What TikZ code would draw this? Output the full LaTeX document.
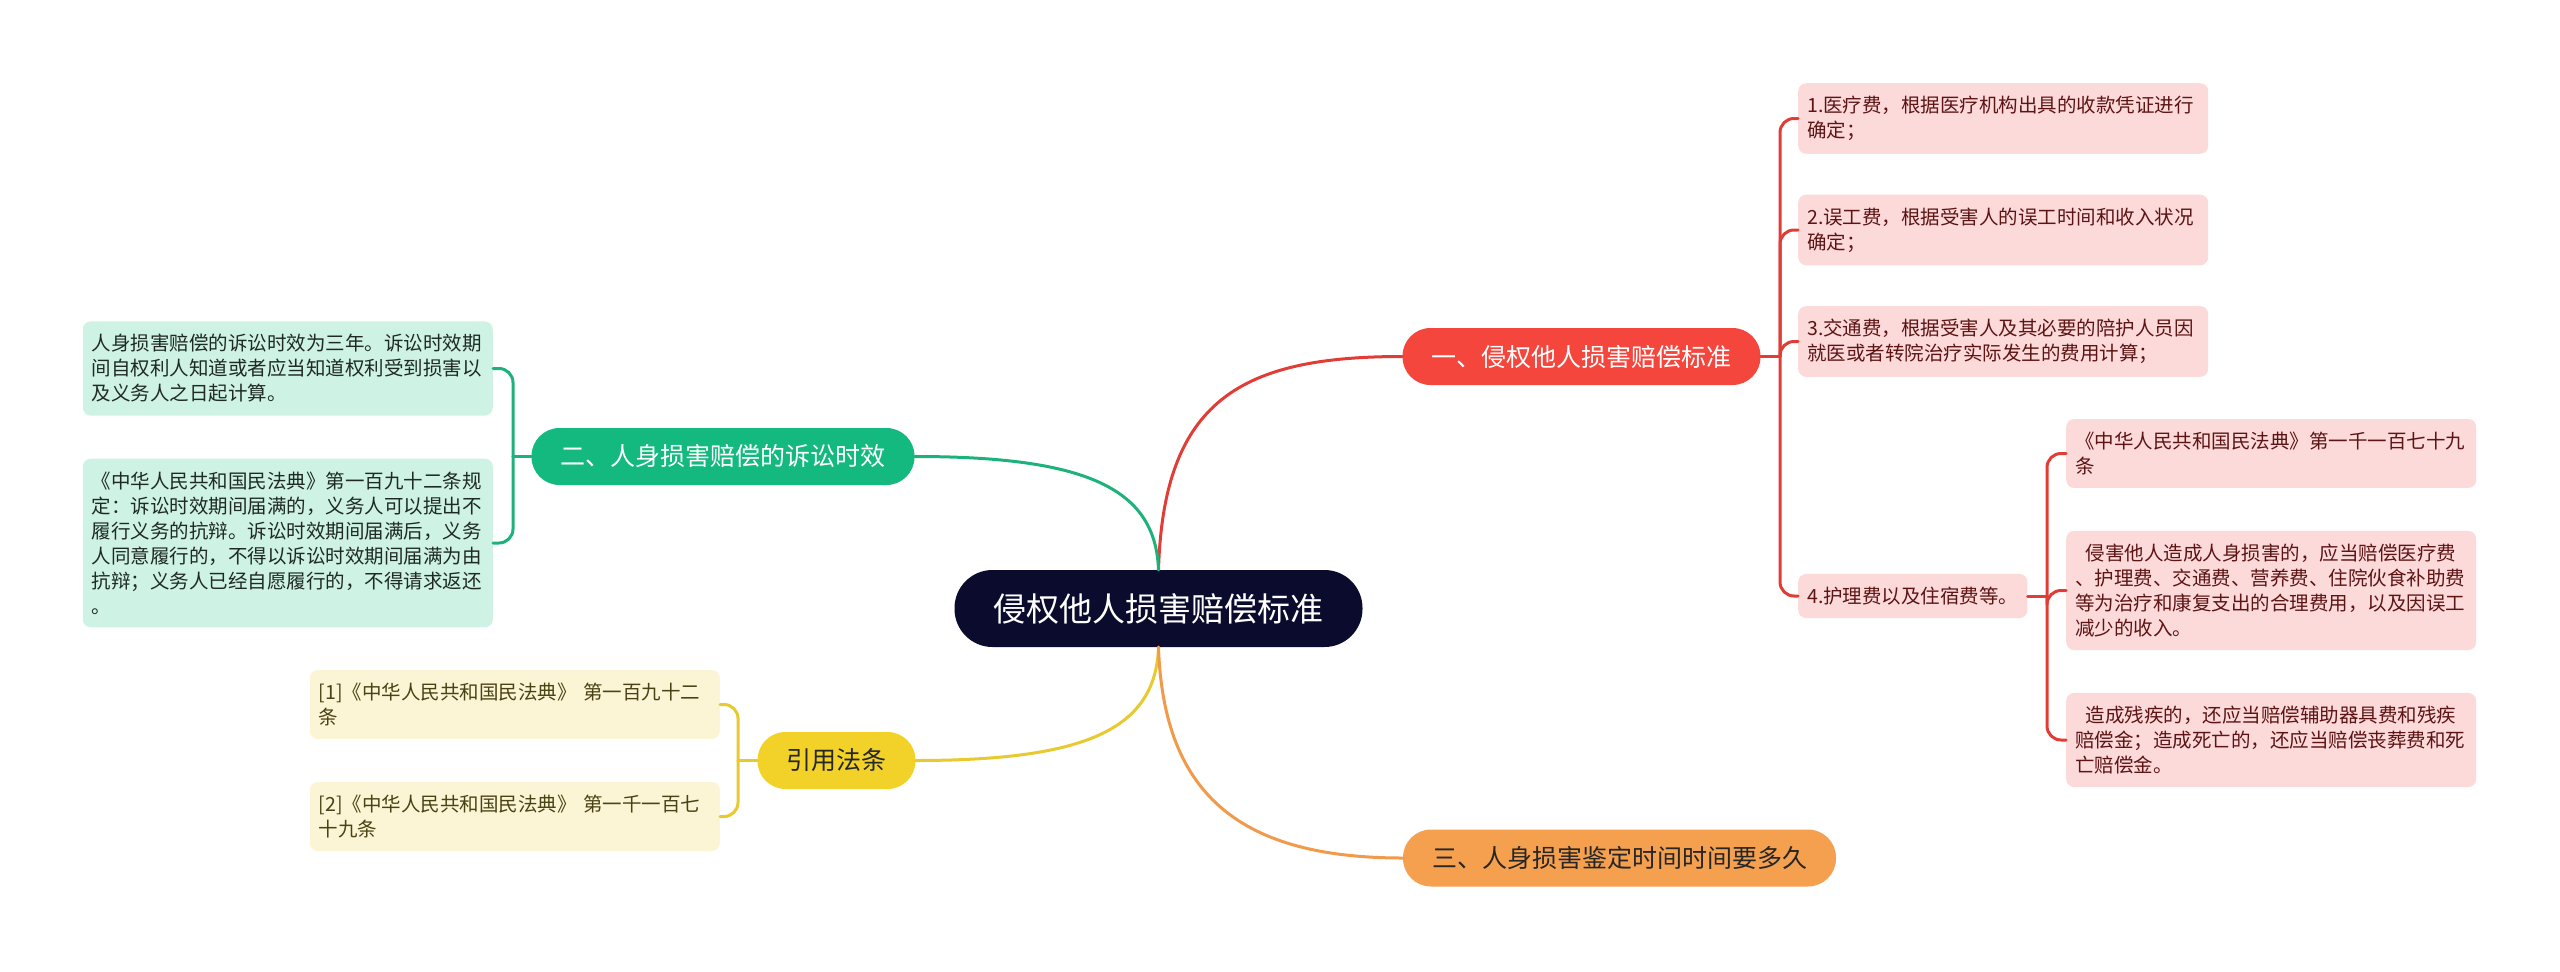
\documentclass[tikz,border=0pt]{standalone}
\usepackage{fontspec}
\newfontfamily\cjk{Noto Sans CJK SC}
\usepackage{tikz}
\usetikzlibrary{positioning}

\definecolor{rootfill}{HTML}{0B0B2D}
\definecolor{redfill}{HTML}{F4463C}
\definecolor{redline}{HTML}{E23C36}
\definecolor{redleaf}{HTML}{FDDADA}
\definecolor{redtext}{HTML}{5C1414}
\definecolor{greenfill}{HTML}{13B97E}
\definecolor{greenline}{HTML}{1DB27B}
\definecolor{greenleaf}{HTML}{CEF2E4}
\definecolor{greentext}{HTML}{1F2A24}
\definecolor{yellowfill}{HTML}{F2D229}
\definecolor{yellowline}{HTML}{E8C92F}
\definecolor{yellowleaf}{HTML}{FCF5D5}
\definecolor{yellowtext}{HTML}{4A4214}
\definecolor{orangefill}{HTML}{F5A04E}
\definecolor{orangeline}{HTML}{F09A4A}

\tikzset{
  topic/.style={rounded corners=28pt, minimum height=57pt, inner xsep=29pt, inner ysep=0pt,
    font=\cjk\fontsize{25}{30}\selectfont},
  leaf/.style={rounded corners=8pt, inner xsep=9pt, inner ysep=13pt, align=left,
    font=\cjk\fontsize{19.5}{25}\selectfont},
  wide/.style={text width=392pt},
  rleaf/.style={leaf, fill=redleaf, text=redtext},
  gleaf/.style={leaf, wide, fill=greenleaf, text=greentext},
  yleaf/.style={leaf, wide, fill=yellowleaf, text=yellowtext},
  link/.style={line width=3pt, line cap=round},
  bracket/.style={link, rounded corners=14pt}
}

\begin{document}
\begin{tikzpicture}[x=1pt,y=-1pt]

  \useasboundingbox (0,0) rectangle (2560,972);

  % ------- 中心主题 -------
  \node[fill=rootfill, text=white, rounded corners=38pt, minimum height=77pt,
        inner xsep=39pt, inner ysep=0pt, font=\cjk\fontsize{33}{40}\selectfont]
        (root) at (1158.5,608.5) {侵权他人损害赔偿标准};

  %================= 分支主题 =================
  \node[topic, fill=redfill, text=white] (std) at (1581.5,356.5) {一、侵权他人损害赔偿标准};
  \node[topic, fill=greenfill, text=white] (limit) at (723,456.5) {二、人身损害赔偿的诉讼时效};
  \node[topic, fill=orangefill, text=black!85] (time) at (1619.5,858) {三、人身损害鉴定时间时间要多久};
  \node[topic, fill=yellowfill, text=black!85] (law) at (836.5,760.5) {引用法条};

  % 中心到分支的曲线
  \draw[link, redline] (root.north) .. controls +(5,-170) and +(-161,0) .. (std.west);
  \draw[link, greenline] (root.north) .. controls +(-3,-80) and +(175,0) .. (limit.east);
  \draw[link, yellowline] (root.south) .. controls +(-3,80) and +(175,0) .. (law.east);
  \draw[link, orangeline] (root.south) .. controls +(5,150) and +(-160,0) .. (time.west);

  %================= 右侧：一、赔偿标准 =================
  \node[rleaf, wide, anchor=west] (fee1) at (1798,118.5) {1.医疗费，根据医疗机构出具的收款凭证进行\\确定；};
  \node[rleaf, wide, anchor=west] (fee2) at (1798,230) {2.误工费，根据受害人的误工时间和收入状况\\确定；};
  \node[rleaf, wide, anchor=west] (fee3) at (1798,341.5) {3.交通费，根据受害人及其必要的陪护人员因\\就医或者转院治疗实际发生的费用计算；};
  \node[rleaf, anchor=west] (fee4) at (1798,596) {4.护理费以及住宿费等。};

  \coordinate (stdj) at (1780,356.5);
  \draw[link, redline] (std.east) -- (stdj);
  \foreach \k in {fee1,fee2,fee3,fee4} {
    \draw[bracket, redline] (stdj) |- (\k.west);
  }

  % ---- 4.护理费 的下级 ----
  \node[rleaf, wide, anchor=west] (art1) at (2066,453.5) {《中华人民共和国民法典》第一千一百七十九\\条};
  \node[rleaf, wide, anchor=west] (art2) at (2066,590.5) {\hspace*{0.55em}侵害他人造成人身损害的，应当赔偿医疗费\\、护理费、交通费、营养费、住院伙食补助费\\等为治疗和康复支出的合理费用，以及因误工\\减少的收入。};
  \node[rleaf, wide, anchor=west] (art3) at (2066,740) {\hspace*{0.55em}造成残疾的，还应当赔偿辅助器具费和残疾\\赔偿金；造成死亡的，还应当赔偿丧葬费和死\\亡赔偿金。};

  \coordinate (feej) at (2047,596);
  \draw[link, redline] (fee4.east) -- (feej);
  \foreach \k in {art1,art2,art3} {
    \draw[bracket, redline] (feej) |- (\k.west);
  }

  %================= 左侧：二、诉讼时效 =================
  \node[gleaf, anchor=east] (lim1) at (493,368.5) {人身损害赔偿的诉讼时效为三年。诉讼时效期\\间自权利人知道或者应当知道权利受到损害以\\及义务人之日起计算。};
  \node[gleaf, anchor=east] (lim2) at (493,543) {《中华人民共和国民法典》第一百九十二条规\\定：诉讼时效期间届满的，义务人可以提出不\\履行义务的抗辩。诉讼时效期间届满后，义务\\人同意履行的，不得以诉讼时效期间届满为由\\抗辩；义务人已经自愿履行的，不得请求返还\\。};

  \coordinate (limj) at (513,456.5);
  \draw[link, greenline] (limit.west) -- (limj);
  \foreach \k in {lim1,lim2} {
    \draw[bracket, greenline] (limj) |- (\k.east);
  }

  %================= 左下：引用法条 =================
  \node[yleaf, anchor=east] (ref1) at (720,704.5) {[1]《中华人民共和国民法典》 第一百九十二\\条};
  \node[yleaf, anchor=east] (ref2) at (720,816.5) {[2]《中华人民共和国民法典》 第一千一百七\\十九条};

  \coordinate (lawj) at (738,760.5);
  \draw[link, yellowline] (law.west) -- (lawj);
  \foreach \k in {ref1,ref2} {
    \draw[bracket, yellowline] (lawj) |- (\k.east);
  }

\end{tikzpicture}
\end{document}
